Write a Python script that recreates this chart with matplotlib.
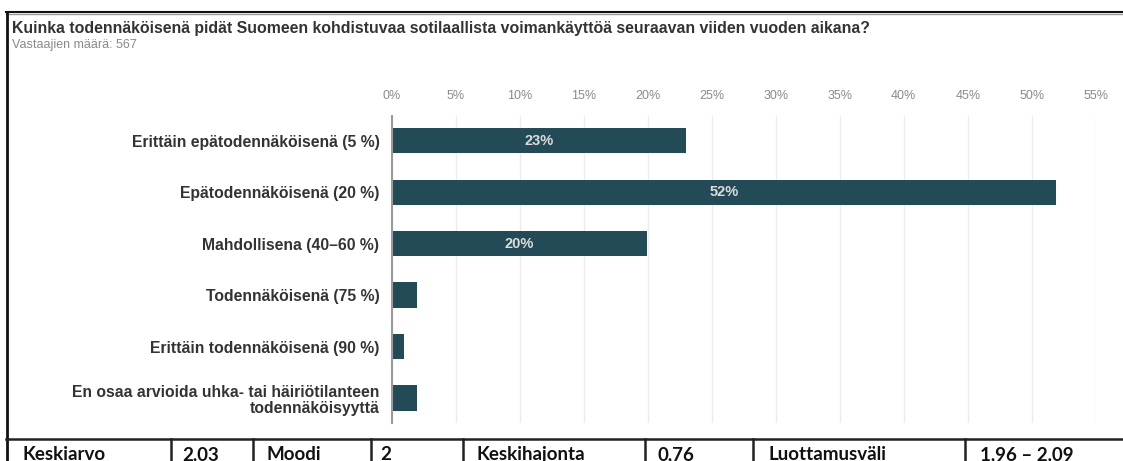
import matplotlib.pyplot as plt
from matplotlib.lines import Line2D

##### DATA #####

title    = "Kuinka todennäköisenä pidät Suomeen kohdistuvaa sotilaallista voimankäyttöä seuraavan viiden vuoden aikana?"
subtitle = "Vastaajien määrä: 567"

categories = [
    "Erittäin epätodennäköisenä (5 %)",
    "Epätodennäköisenä (20 %)",
    "Mahdollisena (40–60 %)",
    "Todennäköisenä (75 %)",
    "Erittäin todennäköisenä (90 %)",
    "En osaa arvioida uhka- tai häiriötilanteen\ntodennäköisyyttä",
]
shares = [23.0, 51.9, 19.9, 1.95, 0.94, 1.95]

xticks = [0, 5, 10, 15, 20, 25, 30, 35, 40, 45, 50, 55]

stat_labels = ["Keskiarvo", "2,03", "Moodi", "2", "Keskihajonta", "0,76", "Luottamusväli", "1,96 – 2,09"]

W, H = 1123, 461
barColor = "#234b57"


##### FIGURE #####

fig = plt.figure(figsize = (W / 100, H / 100), dpi = 100)
fig.patch.set_facecolor("white")

def px(x, y):
    # pixel (from top-left) -> figure fraction
    return x / W, 1 - y / H

ax_left, ax_right = 392, 1095.7
ax_top, ax_bottom = 115.7, 423
ax = fig.add_axes([ax_left / W, 1 - ax_bottom / H,
                   (ax_right - ax_left) / W, (ax_bottom - ax_top) / H])

ypos = list(range(len(categories)))
ax.barh(ypos, shares, height = 0.49, color = barColor, zorder = 3)

for y, v in zip(ypos, shares):
    if v >= 10:
        ax.text(v / 2, y, f"{v:.0f}%", ha = "center", va = "center",
                color = "#dcdcdc", fontsize = 10.5, fontweight = "bold",
                family = "Liberation Sans", zorder = 4)

ax.set_xlim(0, 55)
ax.set_ylim(5.485, -0.485)

ax.set_xticks(xticks)
ax.set_xticklabels([f"{t}%" for t in xticks], family = "Liberation Sans",
                   fontsize = 9, color = "#8a8a8a")
ax.xaxis.tick_top()
ax.tick_params(axis = "x", length = 0, pad = 10)

ax.set_yticks(ypos)
ax.set_yticklabels(categories, family = "Liberation Sans", fontsize = 11.3,
                   fontweight = "bold", color = "#333333", linespacing = 1.15)
ax.tick_params(axis = "y", length = 0, pad = 9)

ax.grid(axis = "x", color = "#ececec", lw = 1, zorder = 0)
for s in ["top", "right", "bottom"]:
    ax.spines[s].set_visible(False)
ax.spines["left"].set_color("#9a9a9a")
ax.spines["left"].set_linewidth(1.5)
ax.spines["left"].set_zorder(5)


##### TITLES #####

fig.text(*px(12, 28), title, family = "Liberation Sans", fontsize = 11.4,
         fontweight = "bold", color = "#333333", va = "center", ha = "left")
fig.text(*px(12, 44.5), subtitle, family = "Liberation Sans", fontsize = 9,
         color = "#8a8a8a", va = "center", ha = "left")


##### FRAME AND TABLE #####

def hline(y, x0, x1, **kw):
    fig.add_artist(Line2D([x0 / W, x1 / W], [1 - y / H, 1 - y / H], **kw))

def vline(x, y0, y1, **kw):
    fig.add_artist(Line2D([x / W, x / W], [1 - y0 / H, 1 - y1 / H], **kw))

hline(12.5, 6, W, color = "#111111", lw = 1.5)
hline(14.5, 6, W, color = "#9a9a9a", lw = 1)
vline(7.3, 12, H, color = "#111111", lw = 2)

hline(439, 6, W, color = "#222222", lw = 1.8)
for x in [171, 252.5, 371, 462.7, 645, 753.3, 965]:
    vline(x, 439, H, color = "#222222", lw = 1.8)

stat_x = [22, 182, 266, 380, 477, 658, 768, 980]
for x, s in zip(stat_x, stat_labels):
    fig.text(*px(x, 460), s, family = "Lato", fontsize = 13.5, fontweight = "bold",
             color = "#111111", va = "baseline", ha = "left")

fig.savefig("out.png", dpi = 100, facecolor = "white")
